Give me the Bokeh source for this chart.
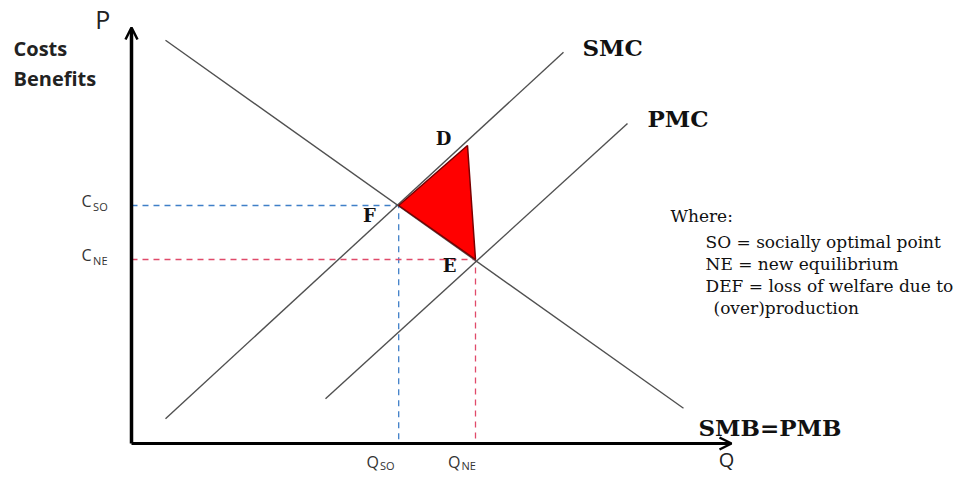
from bokeh.plotting import figure
from bokeh.models import Arrow, OpenHead
from bokeh.core.properties import value
from bokeh.embed import file_html
from bokeh.resources import INLINE

# ---- data (economic diagram, arbitrary units) ----
smb_x = [0.85, 13.8]
smb_y = [10.08, 0.88]
smc_x = [0.85, 10.8]
smc_y = [0.62, 9.78]
pmc_x = [4.85, 12.4]
pmc_y = [1.12, 8.0]
pt_names = ["D", "F", "E"]
pt_x = [8.4, 6.68, 8.6]
pt_y = [7.45, 5.95, 4.6]
q_axis_end = 15.0
p_axis_end = 10.4

W, H = 961, 475
SC = 40.0
x0 = -131 / SC
y1 = 443 / SC
p = figure(width=W, height=H, output_backend="svg", toolbar_location=None,
           x_range=(x0, x0 + W / SC), y_range=(y1 - H / SC, y1),
           min_border=0, outline_line_color=None)
p.axis.visible = False
p.grid.visible = False
p.background_fill_color = "white"

F = (pt_x[1], pt_y[1])
E = (pt_x[2], pt_y[2])

# dashed guides
p.line([0, F[0], F[0]], [F[1], F[1], 0], line_color="#3f7fc8", line_width=1.3, line_dash="6 5")
p.line([0, E[0], E[0]], [E[1], E[1], 0], line_color="#e04a6a", line_width=1.3, line_dash="6 5")

# curves
for xs, ys in [(smb_x, smb_y), (smc_x, smc_y), (pmc_x, pmc_y)]:
    p.line(xs, ys, line_color="#505050", line_width=1.4)

# welfare loss triangle
p.patch(pt_x, pt_y, fill_color="#ff0000", line_color="#7a0000", line_width=1.5)

# axes
p.add_layout(Arrow(end=OpenHead(size=12, line_width=2.5, line_color="black"),
                   x_start=0, y_start=0, x_end=0, y_end=p_axis_end,
                   line_width=3.5, line_color="black"))
p.add_layout(Arrow(end=OpenHead(size=12, line_width=2.5, line_color="black"),
                   x_start=0, y_start=0, x_end=q_axis_end, y_end=0,
                   line_width=3, line_color="black"))

sans = value("Open Sans")
serif = value("DejaVu Serif")

def txt(x, y, s, size, font, style="normal", color="#222222", align="left"):
    p.text([x], [y], text=[s], text_font=font, text_font_size=f"{size}px",
           text_font_style=style, text_color=color, text_align=align,
           text_baseline="middle")

txt(-0.72, 10.62, "P", 25, sans, align="center")
txt(14.875, -0.4, "Q", 20, sans, align="center")
txt(-2.95, 9.875, "Costs", 20, sans, "bold")
txt(-2.95, 9.125, "Benefits", 20, sans, "bold")

# C labels with subscripts
txt(-1.125, pt_y[1] + 0.12, "C", 16, sans, color="#333333", align="center")
txt(-0.96, pt_y[1] - 0.03, "SO", 11, sans, color="#333333")
txt(-1.125, pt_y[2] + 0.12, "C", 16, sans, color="#333333", align="center")
txt(-0.96, pt_y[2] - 0.03, "NE", 11, sans, color="#333333")
# Q labels
txt(pt_x[1] - 0.65, -0.45, "Q", 16, sans, color="#333333", align="center")
txt(pt_x[1] - 0.47, -0.54, "SO", 11, sans, color="#333333")
txt(pt_x[2] - 0.53, -0.45, "Q", 16, sans, color="#333333", align="center")
txt(pt_x[2] - 0.35, -0.54, "NE", 11, sans, color="#333333")

# point labels
txt(7.8, 7.625, "D", 18, serif, "bold", color="#111111", align="center")
txt(5.95, 5.7, "F", 18, serif, "bold", color="#111111", align="center")
txt(7.95, 4.45, "E", 18, serif, "bold", color="#111111", align="center")

txt(11.275, 9.9, "SMC", 23, serif, "bold", color="#111111")
txt(12.9, 8.125, "PMC", 23, serif, "bold", color="#111111")
txt(14.175, 0.4, "SMB=PMB", 23, serif, "bold", color="#111111")

txt(13.475, 5.7, "Where:", 17, serif, color="#111111")
txt(14.35, 5.03, "SO = socially optimal point", 17, serif, color="#111111")
txt(14.35, 4.5, "NE = new equilibrium", 17, serif, color="#111111")
txt(14.35, 3.95, "DEF = loss of welfare due to", 17, serif, color="#111111")
txt(14.55, 3.4, "(over)production", 17, serif, color="#111111")

open("out.html", "w").write(file_html(p, INLINE))
